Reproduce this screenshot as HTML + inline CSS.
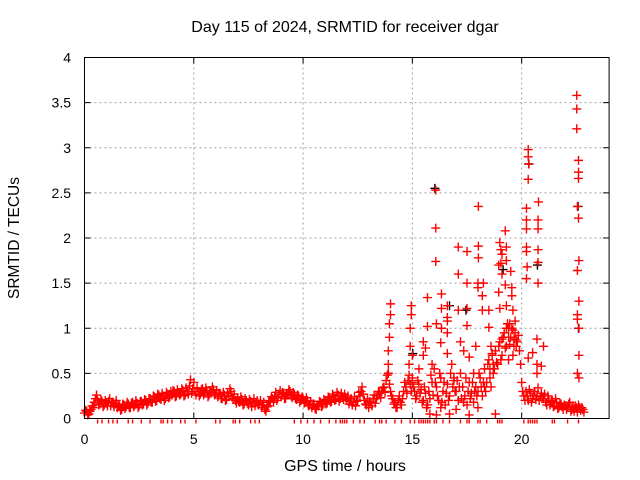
<!DOCTYPE html>
<html><head><meta charset="utf-8"><style>
body{margin:0;background:#fff}
svg{display:block;font-family:"Liberation Sans",sans-serif}
</style></head><body>
<svg id="c" width="640" height="480">
<text x="345" y="32" text-anchor="middle" font-size="16">Day 115 of 2024, SRMTID for receiver dgar</text>
<text x="345" y="471" text-anchor="middle" font-size="16">GPS time / hours</text>
<text transform="translate(19,238) rotate(-90)" text-anchor="middle" font-size="15.5">SRMTID / TECUs</text>
<g id="grid"></g><g id="ticks"></g><g id="pts"></g>
<rect x="84.5" y="57.5" width="524.6" height="361" fill="none" stroke="#000"/>
</svg>
<script>
const xTicks=[0,5,10,15,20];
const yTicks=[0,0.5,1,1.5,2,2.5,3,3.5,4];
const yTickLabels=["0","0.5","1","1.5","2","2.5","3","3.5","4"];
const baseStart=0, baseStep=0.1;
const baseline=[0.06,0.08,0.05,0.10,0.12,0.22,0.20,0.16,0.19,0.15,
0.17,0.19,0.14,0.18,0.16,0.12,0.14,0.10,0.15,0.13,
0.16,0.12,0.18,0.15,0.17,0.14,0.19,0.16,0.20,0.17,
0.22,0.18,0.24,0.20,0.26,0.21,0.25,0.22,0.27,0.24,
0.26,0.30,0.25,0.29,0.27,0.31,0.26,0.30,0.36,0.28,
0.40,0.26,0.30,0.27,0.33,0.28,0.31,0.26,0.29,0.32,
0.27,0.24,0.28,0.22,0.26,0.21,0.25,0.30,0.22,0.20,
0.23,0.18,0.21,0.16,0.20,0.15,0.19,0.17,0.14,0.20,
0.16,0.12,0.18,0.08,0.14,0.19,0.22,0.25,0.20,0.27,
0.24,0.28,0.22,0.26,0.30,0.23,0.27,0.21,0.25,0.20,
0.22,0.18,0.20,0.15,0.12,0.16,0.10,0.14,0.18,0.15,
0.20,0.17,0.23,0.19,0.25,0.21,0.26,0.22,0.24,0.27,
0.20,0.16,0.22,0.18,0.14,0.20,0.25,0.35,0.20,0.15,
0.12,0.18,0.22,0.17,0.25,0.28,0.30,0.35,0.42,0.50,
0.30,0.22,0.18,0.12,0.25,0.15,0.30,0.35,0.42,0.38,
0.45,0.30,0.25,0.38,0.32,0.20,0.28,0.15,0.22,0.40,
0.55,0.35,0.20,0.45,0.30,0.15,0.38,0.25,0.60,0.42,
0.30,0.20,0.50,0.35,0.25,0.15,0.40,0.28,0.18,0.35,
0.30,0.45,0.25,0.55,0.40,0.65,0.35,0.50,0.75,0.60,
0.85,0.70,0.95,0.80,1.00,0.90,0.70,0.95,0.85,0.75,
0.40,0.25,0.30,0.20,0.28,0.22,0.30,0.25,0.20,0.28,
0.22,0.18,0.25,0.15,0.20,0.14,0.18,0.12,0.16,0.10,
0.14,0.12,0.18,0.10,0.08,0.12,0.15,0.09,0.10];
const baseline2=[0.09,0.04,0.08,0.14,0.18,0.26,0.15,0.21,0.13,0.20,
0.14,0.22,0.18,0.13,0.20,0.15,0.09,0.16,0.11,0.18,
0.12,0.17,0.13,0.20,0.12,0.19,0.15,0.21,0.15,0.22,
0.18,0.25,0.19,0.27,0.22,0.28,0.20,0.29,0.23,0.30,
0.31,0.24,0.32,0.26,0.33,0.25,0.34,0.27,0.43,0.33,
0.30,0.34,0.25,0.32,0.26,0.34,0.24,0.31,0.35,0.26,
0.31,0.28,0.22,0.29,0.20,0.28,0.33,0.24,0.27,0.17,
0.19,0.24,0.15,0.22,0.17,0.21,0.13,0.22,0.18,0.15,
0.20,0.15,0.10,0.13,0.20,0.24,0.18,0.29,0.23,0.31,
0.29,0.22,0.27,0.32,0.25,0.29,0.22,0.26,0.18,0.24,
0.17,0.23,0.14,0.19,0.16,0.11,0.15,0.19,0.13,0.21,
0.16,0.24,0.18,0.27,0.20,0.29,0.19,0.28,0.21,0.23,
0.25,0.19,0.15,0.24,0.19,0.29,0.30,0.27,0.16,0.22,
0.19,0.14,0.26,0.22,0.30,0.23,0.34,0.29,0.48,0.38,
0.25,0.16,0.12,0.20,0.18,0.22,0.40,0.28,0.48,0.30,
0.35,0.22,0.42,0.28,0.18,0.35,0.12,0.30,0.48,0.26,
0.40,0.25,0.50,0.18,0.40,0.28,0.20,0.50,0.35,0.30,
0.42,0.35,0.22,0.18,0.45,0.30,0.22,0.40,0.30,0.25,
0.50,0.35,0.40,0.30,0.60,0.45,0.70,0.55,0.62,0.80,
0.65,0.90,0.78,1.05,0.82,1.00,0.88,0.80,0.92,0.60,
0.30,0.20,0.25,0.32,0.18,0.26,0.21,0.34,0.24,0.22,
0.27,0.15,0.20,0.19,0.13,0.22,0.11,0.17,0.13,0.15,
0.10,0.16,0.08,0.13,0.14,0.07,0.12,0.12,0.07];
const spikeX=[13.9,13.9,13.95,13.95,14.0,14.0,13.9,14.85,14.9,14.9,14.95,14.95,15.0,15.0,
16.07,16.07,16.07,18.02,18.02,18.02,17.1,17.5,17.1,17.5,18.0,
20.3,20.3,20.32,20.3,20.77,20.75,20.75,20.75,20.75,20.75,
20.22,20.22,20.22,20.22,20.22,20.25,20.22,
22.52,22.52,22.52,22.6,22.6,22.6,22.55,22.6,22.62,22.55,22.62,22.55,22.55,22.62,22.62,22.55,22.62,
15.69,15.69,16.33,16.33,16.1,16.33,16.6,16.6,16.6,16.6,17.1,17.5,17.5,18.2,18.2,18.25,18.0,
19.0,19.05,19.1,19.25,19.3,19.3,19.05,18.95,19.1,19.25,18.95,19.5,19.55,19.55,
18.5,18.5,19.0,19.3,19.6,19.3,19.45,19.6,19.7,19.4,19.75,19.65,19.1,
18.6,18.65,18.7,18.55,17.2,17.35,17.6,16.6,16.3,15.5,15.5,15.6,17.9,
20.7,21.0,20.7,20.9,20.3,20.5,20.7,
15.8,16.1,16.7,17.6,18.8,16.3,17.0,18.0,15.3,15.9,16.9,17.8,18.3,19.4];
const spikeY=[0.6,0.75,0.9,1.05,1.15,1.27,0.5,0.6,0.8,1.0,1.15,1.25,0.7,0.4,
2.53,2.11,1.74,2.35,1.91,1.78,1.9,1.85,1.6,1.5,1.5,
2.98,2.9,2.82,2.65,2.4,2.2,2.1,1.87,1.73,1.5,
2.33,2.2,2.1,1.9,1.85,1.68,1.55,
3.58,3.43,3.21,2.86,2.73,2.66,2.35,2.22,1.75,1.64,1.3,1.15,1.1,1.0,0.7,0.5,0.45,
1.34,1.02,1.38,1.22,1.05,1.0,1.25,1.12,1.08,0.95,1.2,1.22,1.03,1.36,1.2,1.5,1.45,
1.95,1.87,1.82,2.08,1.9,1.75,1.72,1.7,1.6,1.48,1.4,1.63,1.45,1.36,
1.2,1.01,1.22,1.25,1.2,1.0,1.05,0.98,1.08,0.9,0.87,0.8,0.88,
0.8,0.72,0.6,0.55,0.85,0.75,0.68,0.72,0.84,0.85,0.7,0.78,0.8,
0.88,0.8,0.6,0.58,0.67,0.73,0.5,
0.05,0.04,0.05,0.04,0.05,0.12,0.1,0.12,0.55,0.6,0.45,0.5,0.35,0.65];
const blackX=[16.03,20.33,20.72,22.58,22.6,16.7,17.45,19.15,15.02];
const blackY=[2.55,2.82,1.7,2.35,1.0,1.25,1.2,1.65,0.72];
const belowX=[0.6,0.8,1.1,1.3,1.5,2.0,2.2,2.6,3.0,3.5,3.6,3.8,4.0,4.4,4.6,5.1,6.0,6.2,6.8,6.9,7.1,7.6,7.8,8.0,9.6,9.9,10.2,10.5,10.8,11.2,11.5,11.7,11.8,11.9,12.0,12.3,12.6,12.8,13.3,13.5,13.6,13.8,14.2,14.5,14.9,15.1,15.3,15.4,15.5,15.6,15.7,15.8,16.0,16.1,16.4,16.7,17.2,17.5,17.6,18.0,18.1,18.4,18.9,19.0,19.1,20.1,20.3,20.4,20.5,20.6,20.7,21.4,21.5,22.1,22.6];

const X0=84.5,X1=609.1,Y0=418.5,Y1=57.5,XMAX=24,YMAX=4;
const sx=v=>X0+(X1-X0)*v/XMAX, sy=v=>Y0-(Y0-Y1)*v/YMAX;
const NS="http://www.w3.org/2000/svg";
function mk(t,a,p){const e=document.createElementNS(NS,t);for(const k in a)e.setAttribute(k,a[k]);p.appendChild(e);return e;}
const grid=document.getElementById('grid'),ticks=document.getElementById('ticks'),pts=document.getElementById('pts');
xTicks.forEach(v=>{const x=sx(v);
 if(v>0){const g=mk('line',{x1:x,x2:x,y1:Y1,y2:Y0,stroke:'#a0a0a0','stroke-dasharray':'2,3'},grid);
 
 }
 mk('line',{x1:x,x2:x,y1:Y0,y2:Y0-6,stroke:'#000'},ticks);
 mk('line',{x1:x,x2:x,y1:Y1,y2:Y1+6,stroke:'#000'},ticks);
 const t=mk('text',{x:x,y:444,'text-anchor':'middle','font-size':14},ticks);t.textContent=v;
 
 
});
yTicks.forEach((v,i)=>{const y=sy(v);
 if(v>0&&v<YMAX){const g=mk('line',{x1:X0,x2:X1,y1:y,y2:y,stroke:'#a0a0a0','stroke-dasharray':'2,3'},grid);
 
 }
 mk('line',{x1:X0,x2:X0+6,y1:y,y2:y,stroke:'#000'},ticks);
 mk('line',{x1:X1,x2:X1-6,y1:y,y2:y,stroke:'#000'},ticks);
 const t=mk('text',{x:71,y:y+5,'text-anchor':'end','font-size':14},ticks);t.textContent=yTickLabels[i];
 
 
});
function plus(x,y,c,name){const px=sx(x),py=sy(y);
 const p=mk('path',{d:`M${px-4.5} ${py}H${px+4.5}M${px} ${py-4.5}V${py+4.5}`,stroke:c,'stroke-width':1.4,fill:'none'},pts);
 
 }
blackX.forEach((x,i)=>plus(x,blackY[i],'#000','srmtid-point-alt'));
baseline.forEach((v,i)=>plus(baseStart+i*baseStep,v,'#f00','srmtid-point'));
baseline2.forEach((v,i)=>plus(baseStart+baseStep/2+i*baseStep,v,'#f00','srmtid-point'));
spikeX.forEach((x,i)=>plus(x,spikeY[i],'#f00','srmtid-point'));
belowX.forEach(x=>{const px=sx(x);
 const l=mk('line',{x1:px,x2:px,y1:Y0+1,y2:Y0+5,stroke:'#f00','stroke-width':1.4},pts);
 
 });
</script>
</body></html>
